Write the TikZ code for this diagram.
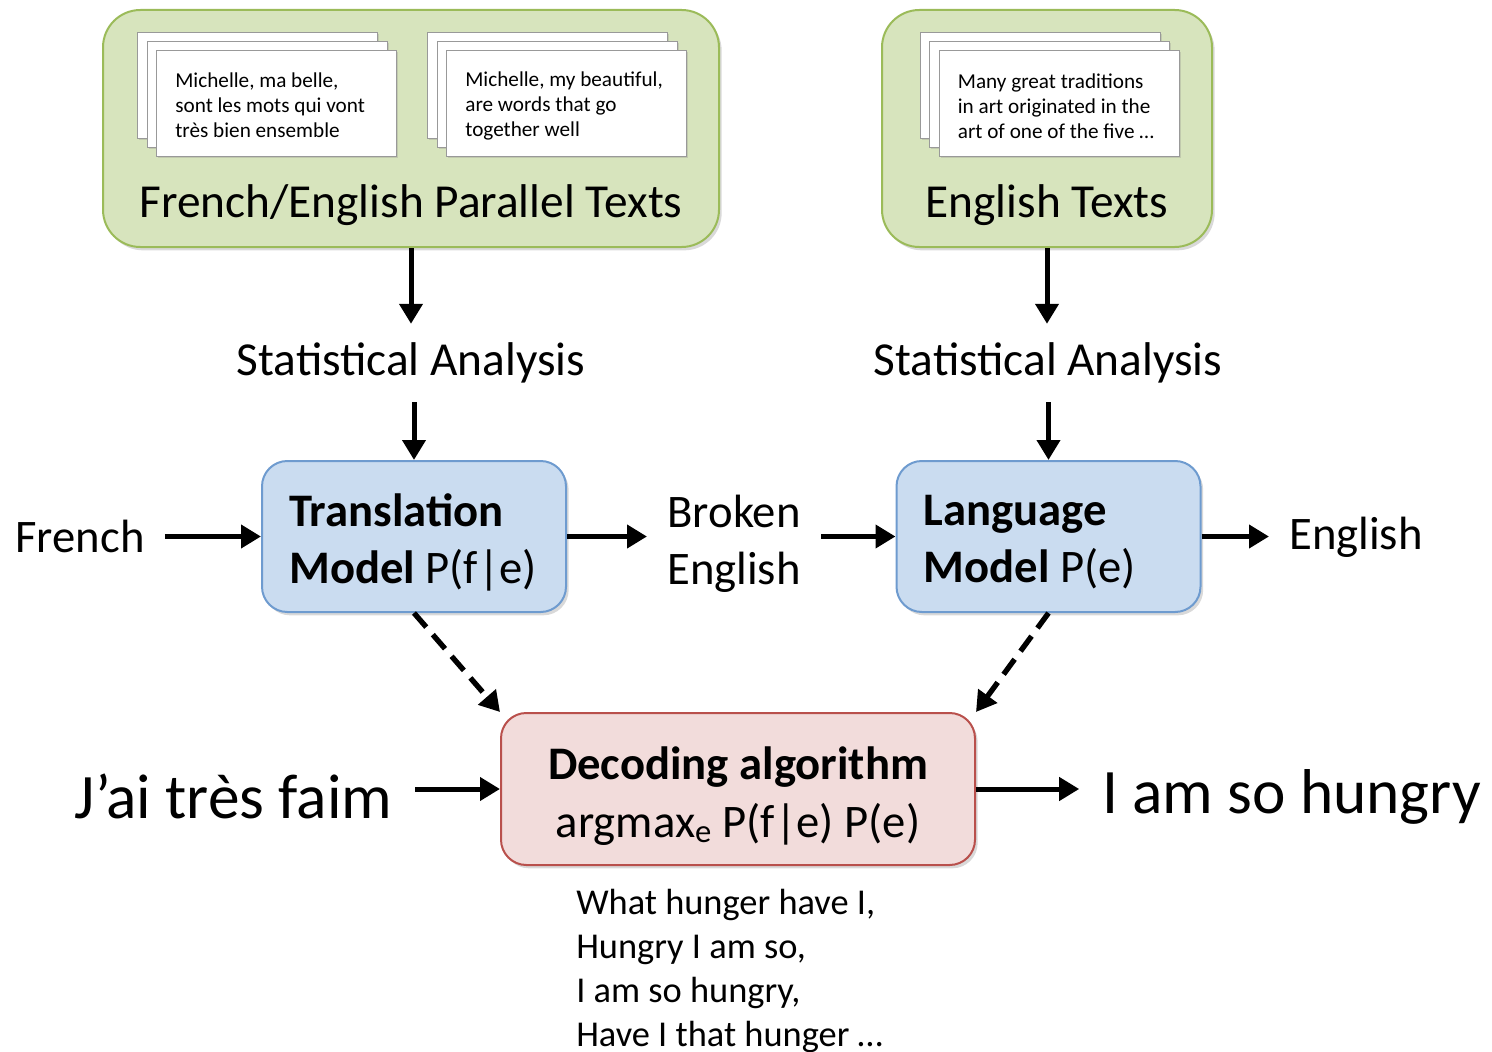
\documentclass[tikz,border=0pt]{standalone}
\usepackage{fontspec}
\setmainfont{Carlito}
\usepackage{tikz}
\usetikzlibrary{shadows}
\usetikzlibrary{positioning}
\usetikzlibrary{arrows.meta,calc}

\definecolor{corpusfill}{HTML}{D7E4BD}
\definecolor{corpusline}{HTML}{9BBB59}
\definecolor{modelfill}{HTML}{CADCF0}
\definecolor{modelline}{HTML}{6E9BCF}
\definecolor{decodefill}{HTML}{F2DCDB}
\definecolor{decodeline}{HTML}{B9504C}

\frenchspacing
\begin{document}
\begin{tikzpicture}[x=0.75pt, y=-0.75pt,
  shade/.style={drop shadow={shadow xshift=2pt, shadow yshift=-2.5pt, opacity=0.3}},
  corpus/.style={draw=corpusline, line width=1.5pt, fill=corpusfill, rounded corners=28pt, minimum height=177.75pt, shade},
  sheet/.style={draw=black!40, line width=0.6pt, fill=white, minimum width=180pt, minimum height=79.5pt,
                drop shadow={shadow xshift=1.2pt, shadow yshift=-1.5pt, opacity=0.25}},
  sheettext/.style={anchor=west, inner sep=0pt, align=left, font=\fontsize{15.9}{18.75}\selectfont},
  label/.style={font=\fontsize{35.5}{42}\selectfont},
  stat/.style={label, inner ysep=14pt},
  side/.style={label, inner xsep=15pt, align=center, font=\fontsize{35}{42.75}\selectfont},
  big/.style={font=\fontsize{47.5}{56}\selectfont, inner xsep=17pt},
  model/.style={draw=modelline, line width=1.5pt, fill=modelfill, rounded corners=19pt, shade,
                minimum width=228pt, minimum height=113.25pt},
  modeltext/.style={anchor=west, inner sep=0pt, align=left, font=\fontsize{35}{42.75}\selectfont},
  decode/.style={draw=decodeline, line width=1.5pt, fill=decodefill, rounded corners=19pt, shade,
                 minimum width=355.5pt, minimum height=114pt},
  decodetext/.style={inner sep=0pt, align=center, font=\fontsize{35}{43.5}\selectfont},
  flow/.style={line width=3.75pt, -{Triangle[length=15pt, width=17pt]}},
  guess/.style={flow, line width=4pt, dash pattern=on 14pt off 7.5pt}
]
\useasboundingbox (0,0) rectangle (1492,1052);

 %corpora
 \node[corpus, minimum width=462pt] (fr-corpus) at (411,128.5) {};
 \node[corpus, minimum width=247.5pt] (en-corpus) at (1047,128.5) {};

 %stacks of pages
 \foreach \s/\cx in {fr/276.5, pair/566.5, mono/1059} {
   \foreach \k in {2,1,0} {
     \node[sheet] (\s-page\k) at (\cx-\k*9.5, 103-\k*9) {};
   }
 }
 \node[sheettext] (fr-sheet) at ([xshift=14.25pt, yshift=-2pt]fr-page0.west) {Michelle, ma belle,\\sont les mots qui vont\\très bien ensemble};
 \node[sheettext] (pair-sheet) at ([xshift=14.25pt, yshift=-2pt]pair-page0.west) {Michelle, my beautiful,\\are words that go\\together well};
 \node[sheettext] (mono-sheet) at ([xshift=14.25pt, yshift=-2.5pt]mono-page0.west) {Many great traditions\\in art originated in the\\art of one of the five …};

 \node[label] (fr-label) at (411,205) {French/English Parallel Texts};
 \node[label] (en-label) at (1047,205) {English Texts};

 %analysis
 \node[stat] (fr-stat) at (411,363) {Statistical Analysis};
 \node[stat] (en-stat) at (1048,363) {Statistical Analysis};

 %models
 \node[model] (tm) at (414,536.5) {};
 \node[modeltext] (tm-text) at ([xshift=21pt, yshift=-4.5pt]tm.west) {\textbf{Translation}\\\textbf{Model} P(f|e)};
 \node[model] (lm) at (1048.5,536.5) {};
 \node[modeltext] (lm-text) at ([xshift=21pt, yshift=-4.5pt]lm.west) {\textbf{Language}\\\textbf{Model} P(e)};

 \node[side] (french) at (80,536) {French};
 \node[side] (broken) at (734,544) {Broken\\English};
 \node[side] (english) at (1356,537) {English};

 %decoder
 \node[decode] (dec) at (738,789) {};
 \node[decodetext] (dec-text) at ([yshift=-5pt]dec.center) {\textbf{Decoding algorithm}\\argmax\textsubscript{e} P(f|e) P(e)};
 \node[big] (jai) at (233.5,796) {J’ai très faim};
 \node[big] (hungry) at (1291.5,797) {I am so hungry};

 \node[anchor=north west, inner sep=0pt, align=left, font=\fontsize{27.3}{33}\selectfont] (poem) at (576,889)
   {What hunger have I,\\Hungry I am so,\\I am so hungry,\\Have I that hunger …};

 %arrows
 \draw[flow] (fr-corpus.south) -- (fr-corpus.south |- fr-stat.north);
 \draw[flow] (en-corpus.south) -- (en-corpus.south |- en-stat.north);
 \draw[flow] (fr-stat.south -| tm.north) -- (tm.north);
 \draw[flow] (en-stat.south -| lm.north) -- (lm.north);

 \draw[flow] (french.east |- tm) -- (tm.west);
 \draw[flow] (tm) -- (tm -| broken.west);
 \draw[flow] (broken.east |- lm) -- (lm.west);
 \draw[flow] (lm) -- (lm -| english.west);

 \draw[guess] (tm.south) -- (dec.north west);
 \draw[guess] (lm.south) -- (dec.north east);

 \draw[flow] (jai.east |- dec) -- (dec.west);
 \draw[flow] (dec) -- (dec -| hungry.west);
\end{tikzpicture}
\end{document}
